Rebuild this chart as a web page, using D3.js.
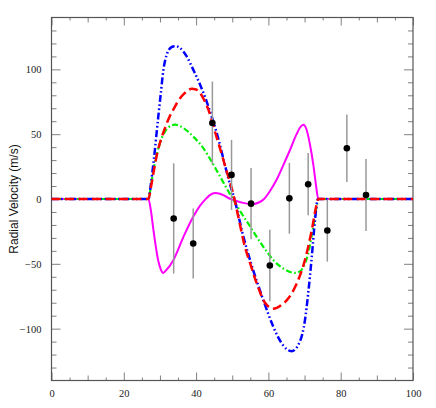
<!DOCTYPE html>
<html>
<head>
<meta charset="utf-8">
<script src="https://cdn.jsdelivr.net/npm/d3@7"></script>
<style>
  html, body { margin: 0; padding: 0; background: #fff; }
  svg { display: block; }
</style>
</head>
<body>
<svg id="chart" width="436" height="408"></svg>
<script>
// ---- data ----
const obsX   = [33.8, 39.2, 44.5, 49.8, 55.2, 60.4, 65.8, 71.0, 76.3, 81.7, 87.0];
const obsY   = [-15, -34.3, 58.6, 18.6, -3.6, -51.3, 0.5, 11.4, -24.3, 39.2, 3.1];
const obsErr = [42.5, 27, 32, 27, 27.5, 27.6, 27.3, 24, 24, 26, 27.7];

const blueX = [0, 26.8, 27.6, 28.2, 29.5, 30.2, 30.9, 31.9, 33.2, 34.2, 35.5, 37.4, 39.2, 41.1, 42.9, 44.6, 46.1, 47.5, 49.0, 50.6, 53.1, 55.8, 58.6, 61.4, 64.1, 66.4, 68.7, 70.1, 71.0, 72.0, 72.9, 73.7, 100];
const blueY = [0, 0, 14, 27.6, 62.5, 80.5, 98.5, 111.5, 117.1, 117.9, 116.6, 110, 99.8, 88.2, 75.3, 61.1, 47, 31.5, 15, 0, -29.2, -55, -78, -98.8, -113, -117.4, -110, -93.7, -73, -44.6, -16, 0, 0];

const redX = [0, 26.8, 27.5, 28.2, 29.3, 30.3, 31.4, 32.5, 33.7, 34.8, 36.0, 37.4, 38.8, 40.0, 41.1, 42.3, 43.4, 44.3, 45.2, 46.3, 47.4, 48.5, 49.4, 50.6, 52.0, 53.5, 55.0, 56.3, 57.5, 58.6, 59.8, 61.2, 62.3, 63.5, 65.1, 66.5, 67.8, 69.0, 70.1, 71.0, 72.0, 73.2, 73.8, 100];
const redY = [0, 0, 9, 20, 36, 46, 54.7, 62.5, 68.9, 74.5, 79.2, 83, 85.1, 84.5, 81.8, 76, 68.9, 61, 52.1, 42, 31.5, 21, 13, 0, -18, -36.9, -50, -61.4, -70.5, -78, -82.5, -84.6, -84, -82, -78, -72.5, -65.3, -57, -47.2, -37, -24, -6, 0, 0];

const greenX = [0, 26.8, 27.6, 28.4, 29.1, 30.5, 31.4, 32.3, 34.2, 36.5, 39.2, 42.0, 44.3, 45.7, 47.3, 48.9, 50.4, 52.0, 54.9, 58.6, 61.4, 64.1, 66.0, 67.4, 68.6, 69.7, 71.0, 72.4, 73.5, 73.8, 100];
const greenY = [0, 0, 12, 25, 34, 47, 52, 55.2, 57.3, 54.7, 48.2, 39.2, 28.9, 22, 14, 6, -1, -8.5, -21, -36.9, -47.2, -53.6, -56.3, -57, -56, -52.4, -42, -21.4, -3.4, 0, 0];

const magX = [0, 26.8, 27.5, 28.2, 29.5, 30.2, 30.9, 31.7, 33.7, 36.5, 39.2, 41.0, 42.5, 43.8, 45.3, 46.6, 48.0, 49.4, 50.8, 53.0, 55.5, 57.5, 58.8, 60.4, 62.3, 64.1, 66.0, 67.8, 69.0, 69.7, 70.5, 71.5, 72.5, 73.2, 73.8, 100];
const magY = [0, 0, -9, -24, -47.2, -54, -57, -55, -47.2, -29.2, -13.7, -5.5, -0.5, 3, 4.6, 4, 2.3, 0.2, -1.2, -3, -4, -2.5, 0, 6, 15, 26, 38, 50, 56, 57.3, 54, 42, 25, 10, 0, 0];

const xTickLabels = [0, 20, 40, 60, 80, 100];
const yTickLabels = [-100, -50, 0, 50, 100];
const yAxisTitle = "Radial Velocity (m/s)";

// ---- chart ----
const svg = d3.select("#chart");
const L = 51.5, R = 413, T = 17.5, B = 380.5;
const x = d3.scaleLinear().domain([0, 100]).range([L, R]);
const y = d3.scaleLinear().domain([-140, 140]).range([B, T]);

const tickColor = "#808080";
const fmt = d3.format("d");

function styleAxis(g, labels) {
  g.select(".domain").remove();
  g.selectAll(".tick line").attr("stroke", tickColor).attr("stroke-width", 1);
  g.selectAll(".tick text")
    .attr("fill", labels ? "#222" : "none")
    .style("font-family", "'Liberation Serif', 'DejaVu Serif', serif")
    .style("font-size", "10.5px");
}

function addAxis(axisFn, scale, values, size, transform, labels, pad) {
  const ax = axisFn(scale).tickValues(values).tickSizeInner(-size).tickSizeOuter(0)
    .tickPadding(pad || 3).tickFormat(labels ? fmt : () => "");
  const g = svg.append("g").attr("transform", transform).call(ax);
  styleAxis(g, labels);
  return g;
}

const xMinor = d3.range(5, 100, 10);
const xMed = d3.range(10, 100, 20);
const yMinor = d3.range(-130, 131, 10).filter(v => v % 50 !== 0);

// bottom
addAxis(d3.axisBottom, x, xMinor, 3, `translate(0,${B})`, false);
addAxis(d3.axisBottom, x, xMed, 5, `translate(0,${B})`, false);
addAxis(d3.axisBottom, x, xTickLabels, 8, `translate(0,${B})`, true, 9);
// top
addAxis(d3.axisTop, x, xMinor, 3, `translate(0,${T})`, false);
addAxis(d3.axisTop, x, xMed, 5, `translate(0,${T})`, false);
addAxis(d3.axisTop, x, xTickLabels, 8, `translate(0,${T})`, false);
// left
addAxis(d3.axisLeft, y, yMinor, 5, `translate(${L},0)`, false);
addAxis(d3.axisLeft, y, yTickLabels, 9, `translate(${L},0)`, true, 10);
// right
addAxis(d3.axisRight, y, yMinor, 5, `translate(${R},0)`, false);
addAxis(d3.axisRight, y, yTickLabels, 9, `translate(${R},0)`, false);

// frame
svg.append("rect")
  .attr("x", L).attr("y", T).attr("width", R - L).attr("height", B - T)
  .attr("fill", "none").attr("stroke", "#555").attr("stroke-width", 1.2);

// y title
svg.append("text")
  .attr("transform", `translate(14,${y(0)}) rotate(-90)`)
  .attr("text-anchor", "middle")
  .attr("dominant-baseline", "central")
  .style("font-family", "'Liberation Sans', Arial, sans-serif")
  .style("font-size", "12px")
  .attr("fill", "#111")
  .text(yAxisTitle);

// curves
const line = d3.line().x(d => x(d[0])).y(d => y(d[1])).curve(d3.curveMonotoneX);
const zip = (a, b) => a.map((v, i) => [v, b[i]]);

const curves = [
  { xs: magX, ys: magY, color: "#ff00ff", w: 2, dash: null },
  { xs: greenX, ys: greenY, color: "#00ee00", w: 2.2, dash: "6,2.5,1.6,2.5" },
  { xs: blueX, ys: blueY, color: "#0000ff", w: 2.5, dash: "7,2.5,1.6,2.5,1.6,2.5" },
  { xs: redX, ys: redY, color: "#ff0000", w: 2.5, dash: "9,4.5" }
];
curves.forEach(c => {
  svg.append("path")
    .datum(zip(c.xs, c.ys))
    .attr("d", line)
    .attr("fill", "none")
    .attr("stroke", c.color)
    .attr("stroke-width", c.w)
    .attr("stroke-dasharray", c.dash)
    .attr("stroke-linejoin", "round");
});

// observations
const obs = obsX.map((v, i) => ({ x: v, y: obsY[i], e: obsErr[i] }));
svg.append("g").selectAll("line").data(obs).join("line")
  .attr("x1", d => x(d.x)).attr("x2", d => x(d.x))
  .attr("y1", d => y(d.y + d.e)).attr("y2", d => y(d.y - d.e))
  .attr("stroke", "#999").attr("stroke-width", 1.5);
svg.append("g").selectAll("circle").data(obs).join("circle")
  .attr("cx", d => x(d.x)).attr("cy", d => y(d.y))
  .attr("r", 3.3).attr("fill", "#000");
</script>
</body>
</html>
